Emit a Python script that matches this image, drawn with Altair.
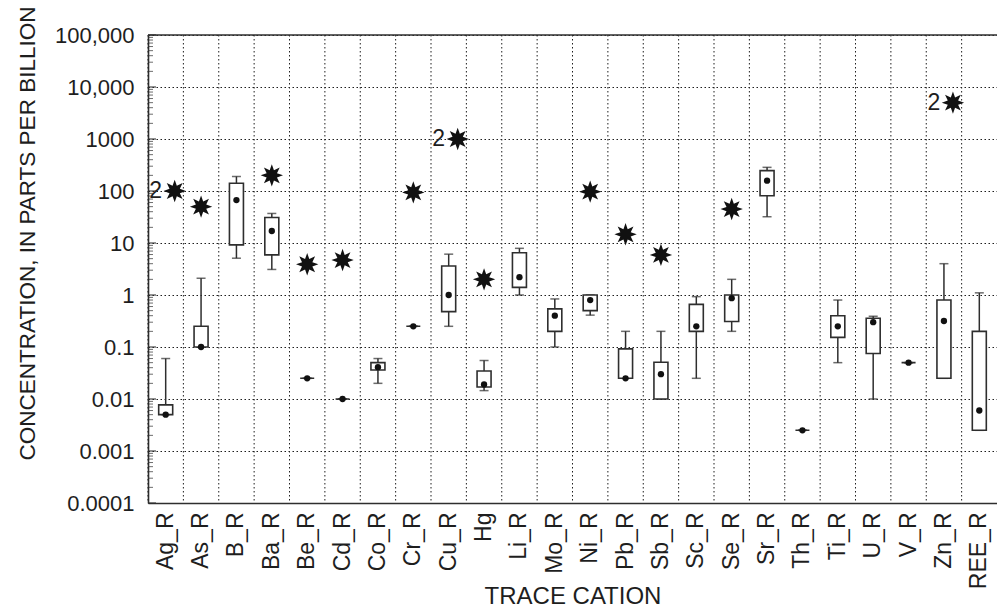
import math
import altair as alt
import pandas as pd

# ---------------- data ----------------
categories = ["Ag_R", "As_R", "B_R", "Ba_R", "Be_R", "Cd_R", "Co_R", "Cr_R", "Cu_R", "Hg",
              "Li_R", "Mo_R", "Ni_R", "Pb_R", "Sb_R", "Sc_R", "Se_R", "Sr_R", "Th_R", "Ti_R",
              "U_R", "V_R", "Zn_R", "REE_R"]
whisker_low = [0.005, 0.1, 5.1, 3.1, 0.025, 0.01, 0.02, 0.25, 0.25, 0.0145,
               1.0, 0.1, 0.41, 0.025, 0.01, 0.025, 0.2, 32, 0.0025, 0.05,
               0.01, 0.05, 0.025, 0.0025]
q1 = [0.005, 0.1, 9.2, 5.9, 0.025, 0.01, 0.036, 0.25, 0.48, 0.017,
      1.4, 0.2, 0.5, 0.025, 0.01, 0.2, 0.31, 81, 0.0025, 0.153,
      0.075, 0.05, 0.025, 0.0025]
median = [0.005, 0.1, 67, 17, 0.025, 0.01, 0.041, 0.25, 1.0, 0.019,
          2.2, 0.4, 0.8, 0.025, 0.03, 0.25, 0.87, 158, 0.0025, 0.25,
          0.3, 0.05, 0.316, 0.006]
q3 = [0.0077, 0.25, 141, 31, 0.025, 0.01, 0.05, 0.25, 3.6, 0.0345,
      6.5, 0.54, 1.0, 0.092, 0.051, 0.66, 1.0, 246, 0.0025, 0.4,
      0.356, 0.05, 0.8, 0.2]
whisker_high = [0.06, 2.1, 190, 37, 0.025, 0.01, 0.06, 0.25, 6.1, 0.055,
                7.9, 0.84, 1.0, 0.2, 0.2, 0.93, 2.0, 285, 0.0025, 0.8,
                0.39, 0.05, 4.0, 1.1]

outlier_cats = ["Ag_R", "As_R", "Ba_R", "Be_R", "Cd_R", "Cr_R", "Cu_R", "Hg", "Ni_R",
                "Pb_R", "Sb_R", "Se_R", "Zn_R"]
outlier_vals = [100, 50, 200, 3.9, 4.7, 94, 1000, 2.0, 97, 14.7, 5.9, 45, 5000]
outlier_counts = ["2", "", "", "", "", "", "2", "", "", "", "", "", "2"]

y_tick_values = [0.0001, 0.001, 0.01, 0.1, 1, 10, 100, 1000, 10000, 100000]
y_tick_labels = ["0.0001", "0.001", "0.01", "0.1", "1", "10", "100", "1000", "10,000", "100,000"]
minor_tick_values = [m * 10.0 ** e for e in range(-4, 5) for m in range(2, 10)]

# ---------------- tables ----------------
box_df = pd.DataFrame({"cat": categories, "low": whisker_low, "q1": q1, "med": median,
                       "q3": q3, "high": whisker_high})
cat_df = pd.DataFrame({"cat": categories})
out_df = pd.DataFrame({"cat": outlier_cats, "val": outlier_vals, "n": outlier_counts})
out_plain = out_df[out_df["n"] == ""]
out_lab = out_df[out_df["n"] != ""]
major_df = pd.DataFrame({"v": y_tick_values})
minor_df = pd.DataFrame({"v": minor_tick_values})
top_df = pd.DataFrame({"v": [max(y_tick_values)]})

# ---------------- styles ----------------
W, H = 849, 468
BAND = W / len(categories)
INK = "#1e1e1e"
LINE = "#2e2e2e"
GRID_DASH = [1.5, 2.5]

pts = []
for k in range(16):
    r = 1.0 if k % 2 == 0 else 0.5
    a = math.radians(-90 + 22.5 * k)
    pts.append(f"{r * math.cos(a):.3f},{r * math.sin(a):.3f}")
star_path = "M" + " L".join(pts) + " Z"

pairs_desc = sorted(zip(y_tick_values, y_tick_labels), reverse=True)
label_expr = " : ".join(f"datum.value > {v * 0.5:.6f} ? '{l}'" for v, l in pairs_desc) + " : ''"

x_scale = alt.Scale(type="band", domain=categories, paddingInner=0, paddingOuter=0)
y_scale = alt.Scale(type="log", domain=[0.0001, 100000], nice=False)

y_axis = alt.Axis(values=y_tick_values, labelExpr=label_expr, grid=True,
                  gridDash=GRID_DASH, gridColor=INK, gridOpacity=1, gridWidth=1,
                  ticks=False, domain=True, domainColor=LINE, domainWidth=1.6,
                  labelFontSize=22, labelPadding=14, labelColor=INK,
                  title="CONCENTRATION, IN PARTS PER BILLION",
                  titleFontSize=22.5, titleFontWeight="normal", titleColor=INK,
                  titleX=-121, titleY=198, titleAngle=270, titleAlign="center",
                  titleBaseline="middle")

x_axis = alt.Axis(orient="bottom", grid=False, ticks=False, domain=True,
                  domainColor=LINE, domainWidth=1.6, labelAngle=270,
                  labelAlign="right", labelBaseline="middle", labelFontSize=23,
                  labelPadding=9, labelColor=INK, title="TRACE CATION",
                  titleFontSize=24, titleFontWeight="normal", titleColor=INK,
                  titleY=100, titleBaseline="alphabetic")


def X():
    return alt.X("cat:N", scale=x_scale, axis=x_axis)


def Y(field):
    return alt.Y(field, scale=y_scale, axis=y_axis)


# vertical dotted grid at band edges
vgrid = alt.Chart(cat_df).mark_rule(color=INK, strokeWidth=1, strokeDash=GRID_DASH,
                                    xOffset=-BAND / 2).encode(x=X())

# top border
top_border = alt.Chart(top_df).mark_rule(color=LINE, strokeWidth=1.6).encode(y=Y("v:Q"))

whiskers = alt.Chart(box_df).mark_rule(color=LINE, strokeWidth=1.5).encode(
    x=X(), y=Y("low:Q"), y2="high:Q")

cap_hi = alt.Chart(box_df).mark_tick(color=LINE, size=9, thickness=1.5,
                                     orient="horizontal").encode(x=X(), y=Y("high:Q"))
cap_lo = alt.Chart(box_df).mark_tick(color=LINE, size=9, thickness=1.5,
                                     orient="horizontal").encode(x=X(), y=Y("low:Q"))

boxes = alt.Chart(box_df).mark_bar(size=14, fill="white", stroke=LINE, strokeWidth=1.6).encode(
    x=X(), y=Y("q1:Q"), y2="q3:Q")

medians = alt.Chart(box_df).mark_circle(size=40, color="#111111", opacity=1).encode(
    x=X(), y=Y("med:Q"))

stars = alt.Chart(out_plain).mark_point(shape=star_path, size=500, filled=True,
                                        color="#111111", opacity=1).encode(
    x=X(), y=Y("val:Q"))
stars_lab = alt.Chart(out_lab).mark_point(shape=star_path, size=500, filled=True,
                                          color="#111111", opacity=1, xOffset=9).encode(
    x=X(), y=Y("val:Q"))
counts = alt.Chart(out_lab).mark_text(fontSize=23, xOffset=-10, align="center",
                                      baseline="middle", color=INK).encode(
    x=X(), y=Y("val:Q"), text="n:N")

minor_ticks = alt.Chart(minor_df).mark_tick(color=LINE, size=5, thickness=1,
                                            orient="horizontal").encode(
    x=alt.value(2.5), y=Y("v:Q"))
major_ticks = alt.Chart(major_df).mark_tick(color=LINE, size=8, thickness=1.5,
                                            orient="horizontal").encode(
    x=alt.value(4), y=Y("v:Q"))

chart = alt.layer(
    vgrid, whiskers, top_border, cap_hi, cap_lo, boxes, medians, stars, stars_lab, counts,
    minor_ticks, major_ticks
).properties(
    width=W, height=H,
    padding={"left": 140, "top": 27, "right": 0, "bottom": 104},
    autosize=alt.AutoSizeParams(type="none"),
).configure(
    font="Liberation Sans"
).configure_view(stroke=None)

chart.save("out.html", embed_options={"renderer": "svg", "actions": False})
